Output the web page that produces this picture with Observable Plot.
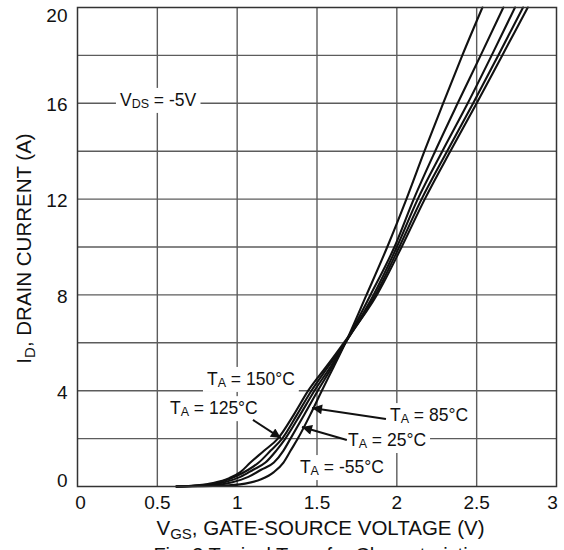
<!DOCTYPE html>
<html><head><meta charset="utf-8">
<script src="https://cdn.jsdelivr.net/npm/d3@7"></script>
<script src="https://cdn.jsdelivr.net/npm/@observablehq/plot@0.6"></script>
<style>
body{margin:0;background:#fff;}
#chart svg{display:block;}
</style>
</head><body><div id="chart"></div>
<script>
// ---- Data ----
const xTicks = [0, 0.5, 1, 1.5, 2, 2.5, 3];
const yTicks = [0, 4, 8, 12, 16, 20];
const xGrid = [0.5, 1, 1.5, 2, 2.5];
const yGrid = [2, 4, 6, 8, 10, 12, 14, 16, 18];

const temps = ["-55°C", "25°C", "85°C", "125°C", "150°C"];

const idM55 = [0, 0.03, 0.12, 0.3, 0.6, 1.0, 1.5, 2, 3, 4, 5, 6, 8, 10, 12, 14, 16, 18, 20];
const vgsM55 = [0.62, 0.9, 1.05, 1.15, 1.23, 1.29, 1.335, 1.38, 1.458, 1.53, 1.605, 1.678, 1.81, 1.94, 2.06, 2.173, 2.29, 2.41, 2.536];

const id25 = [0, 0.05, 0.18, 0.4, 0.7, 1.0, 1.5, 2, 3, 4, 5, 6, 8, 10, 12, 14, 16, 18, 20];
const vgs25 = [0.62, 0.85, 0.97, 1.07, 1.15, 1.23, 1.29, 1.334, 1.42, 1.505, 1.595, 1.678, 1.835, 1.985, 2.106, 2.24, 2.381, 2.525, 2.667];

const id85 = [0, 0.05, 0.18, 0.4, 0.7, 1.0, 1.5, 2, 3, 4, 5, 6, 8, 10, 12, 14, 16, 18, 20];
const vgs85 = [0.62, 0.8, 0.92, 1.02, 1.1, 1.177, 1.245, 1.302, 1.395, 1.484, 1.585, 1.678, 1.854, 2.0, 2.131, 2.285, 2.444, 2.594, 2.74];

const id125 = [0, 0.05, 0.2, 0.45, 0.7, 1.0, 1.5, 2, 3, 4, 5, 6, 8, 10, 12, 14, 16, 18, 20];
const vgs125 = [0.62, 0.78, 0.9, 1.0, 1.07, 1.135, 1.21, 1.282, 1.375, 1.465, 1.57, 1.675, 1.866, 2.015, 2.155, 2.315, 2.478, 2.635, 2.79];

const id150 = [0, 0.05, 0.15, 0.35, 0.6, 1.0, 1.5, 2, 3, 4, 5, 6, 8, 10, 12, 14, 16, 18, 20];
const vgs150 = [0.62, 0.75, 0.85, 0.95, 1.02, 1.083, 1.17, 1.255, 1.355, 1.445, 1.558, 1.668, 1.875, 2.03, 2.175, 2.335, 2.50, 2.66, 2.82];

const seriesV = [vgsM55, vgs25, vgs85, vgs125, vgs150];
const seriesI = [idM55, id25, id85, id125, id150];

// Annotation texts (main, subscript, rest) and anchors in data units (V, A)
const noteTexts = [
  ["V", "DS", " = -5V"],
  ["T", "A", " = 150°C"],
  ["T", "A", " = 125°C"],
  ["T", "A", " = 85°C"],
  ["T", "A", " = 25°C"],
  ["T", "A", " = -55°C"]
];
const noteX = [0.269, 0.814, 0.582, 1.96, 1.697, 1.396];
const noteY = [15.87, 4.22, 3.0, 2.71, 1.67, 0.54];

// Arrows: from (V,A) to (V,A)
const arrowFromX = [1.102, 1.935, 1.69];
const arrowFromY = [2.76, 2.8, 1.92];
const arrowToX = [1.277, 1.472, 1.409];
const arrowToY = [2.0, 3.26, 2.46];

// ---- Build table ----
const rows = [];
temps.forEach((t, k) => {
  seriesV[k].forEach((v, i) => rows.push({temp: t, vgs: v, id: seriesI[k][i]}));
});

const FONT = "'Liberation Sans', Arial, Helvetica, sans-serif";
const fmt = d => String(d);
const axisOpts = {tickSize: 0, tickFormat: fmt, fontSize: 19, label: null};

const chart = Plot.plot({
  width: 564,
  height: 550,
  marginLeft: 77,
  marginRight: 8,
  marginTop: 7,
  marginBottom: 64,
  style: {fontFamily: FONT, fontSize: "19px", background: "white", color: "#111", overflow: "visible"},
  x: {domain: [0, 3], label: null},
  y: {domain: [0, 20], label: null},
  marks: [
    Plot.ruleX(xGrid, {stroke: "#5c5c5c", strokeWidth: 1.4}),
    Plot.ruleY(yGrid, {stroke: "#5c5c5c", strokeWidth: 1.4}),
    Plot.line(rows, {x: "vgs", y: "id", z: "temp", stroke: "#111", strokeWidth: 2.1, curve: "monotone-x"}),
    Plot.frame({stroke: "#333", strokeWidth: 1.5}),
    Plot.axisX(xTicks.slice(1, -1), {...axisOpts, tickPadding: 9}),
    Plot.axisX(xTicks.slice(0, 1), {...axisOpts, tickPadding: 9, dx: 3}),
    Plot.axisX(xTicks.slice(-1), {...axisOpts, tickPadding: 9, dx: -4}),
    Plot.axisY(yTicks.slice(1, -1), {...axisOpts, tickPadding: 10, dy: 2}),
    Plot.axisY(yTicks.slice(0, 1), {...axisOpts, tickPadding: 10, dy: -6}),
    Plot.axisY(yTicks.slice(-1), {...axisOpts, tickPadding: 10, dy: 8})
  ]
});

document.getElementById("chart").appendChild(chart);

// ---- Annotations ----
const sx = chart.scale("x"), sy = chart.scale("y");
const svg = d3.select(chart);

svg.append("defs").append("marker")
  .attr("id", "ah").attr("viewBox", "0 0 10 10")
  .attr("refX", 10).attr("refY", 5)
  .attr("markerWidth", 13).attr("markerHeight", 10)
  .attr("markerUnits", "userSpaceOnUse").attr("orient", "auto")
  .append("path").attr("d", "M0,0L10,5L0,10z").attr("fill", "#111");

const ann = svg.append("g").attr("font-family", FONT).attr("fill", "#111");

noteTexts.forEach((parts, k) => {
  const g = ann.append("g");
  const rect = g.append("rect").attr("fill", "white");
  const t = g.append("text")
    .attr("x", sx.apply(noteX[k]))
    .attr("y", sy.apply(noteY[k]))
    .attr("text-anchor", "start")
    .attr("font-size", 17.5);
  t.append("tspan").text(parts[0]);
  t.append("tspan").attr("font-size", 12.5).attr("dy", 2).text(parts[1]);
  t.append("tspan").attr("dy", -2).text(parts[2]);
  const b = t.node().getBBox();
  rect.attr("x", b.x - 4).attr("y", b.y - 2).attr("width", b.width + 8).attr("height", b.height + 4);
});

arrowFromX.forEach((_, k) => {
  ann.append("line")
    .attr("x1", sx.apply(arrowFromX[k])).attr("y1", sy.apply(arrowFromY[k]))
    .attr("x2", sx.apply(arrowToX[k])).attr("y2", sy.apply(arrowToY[k]))
    .attr("stroke", "#111").attr("stroke-width", 2)
    .attr("marker-end", "url(#ah)");
});

// Axis titles
const cx = (sx.apply(0) + sx.apply(3)) / 2;
const xt = ann.append("text").attr("x", cx + 4).attr("y", 535)
  .attr("text-anchor", "middle").attr("font-size", 20.5);
xt.append("tspan").text("V");
xt.append("tspan").attr("font-size", 15).attr("dy", 4).text("GS");
xt.append("tspan").attr("dy", -4).text(", GATE-SOURCE VOLTAGE (V)");

const cy = (sy.apply(0) + sy.apply(20)) / 2;
const yt = ann.append("text").attr("transform", `translate(31,${cy + 2}) rotate(-90)`)
  .attr("text-anchor", "middle").attr("font-size", 20.5);
yt.append("tspan").text("I");
yt.append("tspan").attr("font-size", 15).attr("dy", 4).text("D");
yt.append("tspan").attr("dy", -4).text(", DRAIN CURRENT (A)");

// Figure caption (cut off at the bottom edge as in the reference)
ann.append("text").attr("x", cx + 4).attr("y", 562)
  .attr("text-anchor", "middle").attr("font-size", 20)
  .text("Fig. 3 Typical Transfer Characteristics");
</script>
</body></html>
